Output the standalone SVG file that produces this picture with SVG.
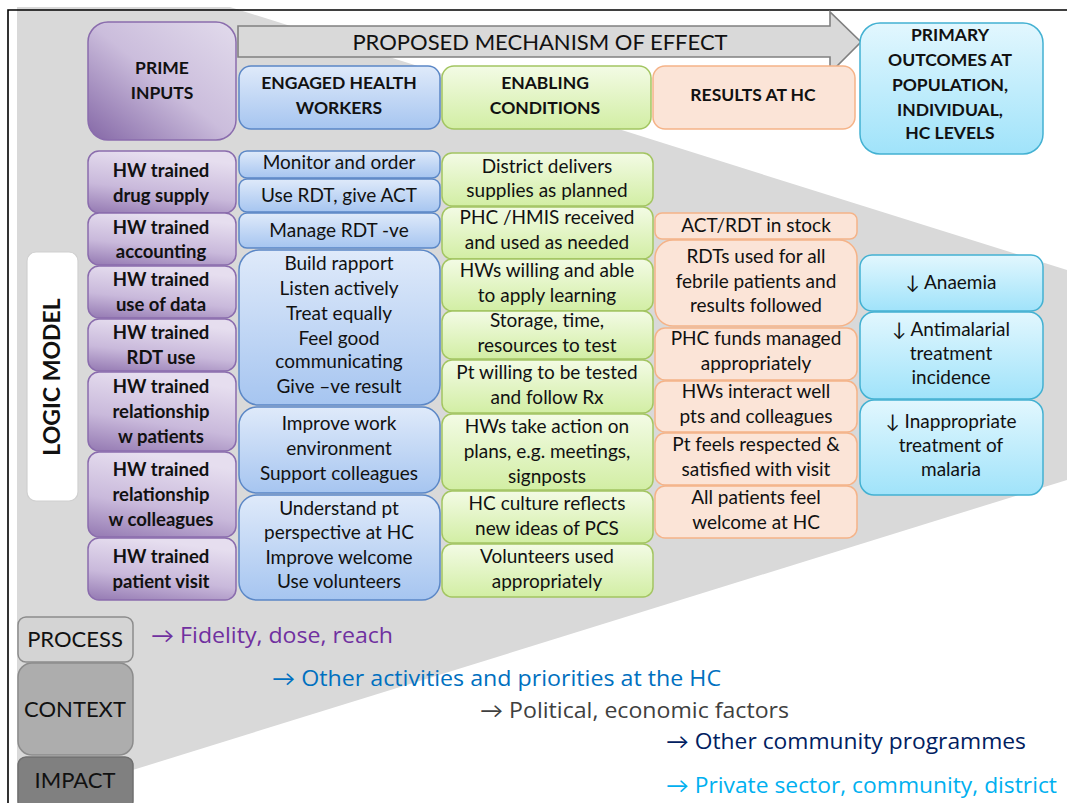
<svg xmlns="http://www.w3.org/2000/svg" width="1067" height="803" viewBox="0 0 1067 803">
<defs>
<linearGradient id="gPur" x1="0.3" y1="0" x2="0" y2="1"><stop offset="0" stop-color="#e6deef"/><stop offset="0.55" stop-color="#c9b9db"/><stop offset="1" stop-color="#9479b2"/></linearGradient>
<linearGradient id="gPurBig" x1="1" y1="0" x2="0" y2="1"><stop offset="0" stop-color="#e2dbec"/><stop offset="0.5" stop-color="#cbbddc"/><stop offset="1" stop-color="#8467a6"/></linearGradient>
<linearGradient id="gBlue" x1="0" y1="0" x2="0" y2="1"><stop offset="0" stop-color="#dfeafa"/><stop offset="1" stop-color="#a6c5f0"/></linearGradient>
<linearGradient id="gGreen" x1="0" y1="0" x2="0" y2="1"><stop offset="0" stop-color="#f3fbe5"/><stop offset="1" stop-color="#d2eea4"/></linearGradient>
<linearGradient id="gCyan" x1="0" y1="0" x2="0" y2="1"><stop offset="0" stop-color="#e2f7fe"/><stop offset="1" stop-color="#a0e3fa"/></linearGradient>
<style>
.pur{fill:url(#gPur);stroke:#8a6cad;stroke-width:1.5}
.blu{fill:url(#gBlue);stroke:#5b87c6;stroke-width:1.5}
.grn{fill:url(#gGreen);stroke:#a3c561;stroke-width:1.5}
.pch{fill:#fbe4d7;stroke:#f5b388;stroke-width:1.5}
.cyn{fill:url(#gCyan);stroke:#43b1d2;stroke-width:1.5}
text{font-family:Lato,"Liberation Sans",sans-serif;fill:#111;text-anchor:middle}
.h{font-weight:bold;font-size:17.5px}
.b{font-weight:bold;font-size:18.5px}
.t{font-size:19px}
.bt{font-family:"Open Sans",Lato,sans-serif;font-size:21px;text-anchor:start}
</style>
</defs>
<rect width="1067" height="803" fill="#ffffff"/>
<!-- grey funnel background -->
<polygon points="17,7 230,7 1067,270 1067,480 136,769 17,803" fill="#d9d9d9"/>
<!-- frame -->
<path d="M1067,10 H8 V803" fill="none" stroke="#000" stroke-width="1.6"/>

<g id="connectors">
<path id="mechanism-arrow" d="M238,26 H830 V12 L861,42 L830,73 V57 H238 Z" fill="#d9d9d9" stroke="#808080" stroke-width="1.6"/>
<text x="540" y="50" style="font-size:22px">PROPOSED MECHANISM OF EFFECT</text>
</g>

<g id="prime-inputs"><rect x="88" y="22" width="148" height="118" rx="20" fill="url(#gPurBig)" stroke="#8a6cad" stroke-width="1.5"/>
<text class="h" x="162" y="74">PRIME</text><text class="h" x="162" y="99">INPUTS</text></g>
<g id="engaged-hw"><rect class="blu" x="239" y="66" width="201" height="63" rx="12"/>
<text class="h" x="339" y="89">ENGAGED HEALTH</text><text class="h" x="339" y="114">WORKERS</text></g>
<g id="enabling"><rect class="grn" x="442" y="66" width="209" height="63" rx="12"/>
<text class="h" x="545" y="89">ENABLING</text><text class="h" x="545" y="114">CONDITIONS</text></g>
<g id="results"><rect class="pch" x="653" y="66" width="202" height="63" rx="12"/>
<text class="h" x="753" y="101">RESULTS AT HC</text></g>
<g id="primary-outcomes"><rect class="cyn" x="860" y="23" width="183" height="131" rx="20"/>
<text class="h" x="950" y="41">PRIMARY</text><text class="h" x="950" y="66">OUTCOMES AT</text><text class="h" x="950" y="91">POPULATION,</text><text class="h" x="950" y="116">INDIVIDUAL,</text><text class="h" x="950" y="139">HC LEVELS</text></g>

<!-- purple column -->
<g id="p1"><rect class="pur" x="88" y="151" width="148" height="62" rx="11"/><text class="b" x="161" y="177">HW trained</text><text class="b" x="161" y="202">drug supply</text></g>
<g id="p2"><rect class="pur" x="88" y="213" width="148" height="52" rx="11"/><text class="b" x="161" y="234">HW trained</text><text class="b" x="161" y="258">accounting</text></g>
<g id="p3"><rect class="pur" x="88" y="266" width="148" height="52" rx="11"/><text class="b" x="161" y="286">HW trained</text><text class="b" x="161" y="311">use of data</text></g>
<g id="p4"><rect class="pur" x="88" y="319" width="148" height="52" rx="11"/><text class="b" x="161" y="339">HW trained</text><text class="b" x="161" y="364">RDT use</text></g>
<g id="p5"><rect class="pur" x="88" y="372" width="148" height="79" rx="11"/><text class="b" x="161" y="393">HW trained</text><text class="b" x="161" y="418">relationship</text><text class="b" x="161" y="443">w patients</text></g>
<g id="p6"><rect class="pur" x="88" y="452" width="148" height="85" rx="11"/><text class="b" x="161" y="476">HW trained</text><text class="b" x="161" y="501">relationship</text><text class="b" x="161" y="526">w colleagues</text></g>
<g id="p7"><rect class="pur" x="88" y="538" width="148" height="62" rx="11"/><text class="b" x="161" y="563">HW trained</text><text class="b" x="161" y="588">patient visit</text></g>

<!-- blue column -->
<g id="b1"><rect class="blu" x="239" y="151" width="201" height="27" rx="8"/><text class="t" x="339" y="169">Monitor and order</text></g>
<g id="b2"><rect class="blu" x="239" y="179" width="201" height="33" rx="8"/><text class="t" x="339" y="202">Use RDT, give ACT</text></g>
<g id="b3"><rect class="blu" x="239" y="213" width="201" height="35" rx="8"/><text class="t" x="339" y="237">Manage RDT -ve</text></g>
<g id="b4"><rect class="blu" x="239" y="250" width="201" height="155" rx="20"/><text class="t" x="339" y="270">Build rapport</text><text class="t" x="339" y="295">Listen actively</text><text class="t" x="339" y="320">Treat equally</text><text class="t" x="339" y="345">Feel good</text><text class="t" x="339" y="368">communicating</text><text class="t" x="339" y="393">Give –ve result</text></g>
<g id="b5"><rect class="blu" x="239" y="407" width="201" height="86" rx="18"/><text class="t" x="339" y="430">Improve work</text><text class="t" x="339" y="455">environment</text><text class="t" x="339" y="480">Support colleagues</text></g>
<g id="b6"><rect class="blu" x="239" y="495" width="201" height="105" rx="18"/><text class="t" x="339" y="515">Understand pt</text><text class="t" x="339" y="539">perspective at HC</text><text class="t" x="339" y="564">Improve welcome</text><text class="t" x="339" y="588">Use volunteers</text></g>

<!-- green column -->
<g id="g1"><rect class="grn" x="442" y="153" width="211" height="53" rx="10"/><text class="t" x="547" y="173">District delivers</text><text class="t" x="547" y="197">supplies as planned</text></g>
<g id="g2"><rect class="grn" x="442" y="207" width="211" height="52" rx="10"/><text class="t" x="547" y="224">PHC /HMIS received</text><text class="t" x="547" y="249">and used as needed</text></g>
<g id="g3"><rect class="grn" x="442" y="259" width="211" height="52" rx="10"/><text class="t" x="547" y="277">HWs willing and able</text><text class="t" x="547" y="302">to apply learning</text></g>
<g id="g4"><rect class="grn" x="442" y="311" width="211" height="48" rx="10"/><text class="t" x="547" y="327">Storage, time,</text><text class="t" x="547" y="352">resources to test</text></g>
<g id="g5"><rect class="grn" x="442" y="360" width="211" height="53" rx="10"/><text class="t" x="547" y="379">Pt willing to be tested</text><text class="t" x="547" y="404">and follow Rx</text></g>
<g id="g6"><rect class="grn" x="442" y="414" width="211" height="76" rx="10"/><text class="t" x="547" y="433">HWs take action on</text><text class="t" x="547" y="458">plans, e.g. meetings,</text><text class="t" x="547" y="483">signposts</text></g>
<g id="g7"><rect class="grn" x="442" y="491" width="211" height="52" rx="10"/><text class="t" x="547" y="510">HC culture reflects</text><text class="t" x="547" y="535">new ideas of PCS</text></g>
<g id="g8"><rect class="grn" x="442" y="544" width="211" height="53" rx="10"/><text class="t" x="547" y="563">Volunteers used</text><text class="t" x="547" y="588">appropriately</text></g>

<!-- peach column -->
<g id="r1"><rect class="pch" x="655" y="213" width="202" height="26" rx="7"/><text class="t" x="756" y="232">ACT/RDT in stock</text></g>
<g id="r2"><rect class="pch" x="655" y="240" width="202" height="86" rx="18"/><text class="t" x="756" y="263">RDTs used for all</text><text class="t" x="756" y="288">febrile patients and</text><text class="t" x="756" y="312">results followed</text></g>
<g id="r3"><rect class="pch" x="655" y="328" width="202" height="52" rx="10"/><text class="t" x="756" y="345">PHC funds managed</text><text class="t" x="756" y="370">appropriately</text></g>
<g id="r4"><rect class="pch" x="655" y="381" width="202" height="51" rx="10"/><text class="t" x="756" y="398">HWs interact well</text><text class="t" x="756" y="423">pts and colleagues</text></g>
<g id="r5"><rect class="pch" x="655" y="433" width="202" height="52" rx="10"/><text class="t" x="756" y="451">Pt feels respected &amp;</text><text class="t" x="756" y="476">satisfied with visit</text></g>
<g id="r6"><rect class="pch" x="655" y="486" width="202" height="52" rx="10"/><text class="t" x="756" y="504">All patients feel</text><text class="t" x="756" y="529">welcome at HC</text></g>

<!-- cyan column -->
<g id="c1"><rect class="cyn" x="860" y="255" width="183" height="56" rx="12"/><text class="t" x="951" y="289">↓ Anaemia</text></g>
<g id="c2"><rect class="cyn" x="860" y="312" width="183" height="87" rx="14"/><text class="t" x="951" y="336">↓ Antimalarial</text><text class="t" x="951" y="360">treatment</text><text class="t" x="951" y="384">incidence</text></g>
<g id="c3"><rect class="cyn" x="860" y="400" width="183" height="95" rx="14"/><text class="t" x="951" y="428">↓ Inappropriate</text><text class="t" x="951" y="452">treatment of</text><text class="t" x="951" y="476">malaria</text></g>

<!-- logic model label -->
<g id="logic-model"><rect x="27" y="252" width="51" height="249" rx="9" fill="#ffffff" stroke="#d0d0d0" stroke-width="1.2"/>
<text x="52" y="385" transform="rotate(-90 52 377)" style="font-weight:bold;font-size:23px">LOGIC MODEL</text></g>

<!-- evaluation boxes -->
<g id="process"><rect x="18" y="617" width="115" height="45" rx="8" fill="#d4d4d4" stroke="#8c8c8c" stroke-width="1.5"/><text x="75" y="647" style="font-size:22px">PROCESS</text></g>
<g id="context"><rect x="18" y="663" width="115" height="92" rx="14" fill="#adadad" stroke="#8c8c8c" stroke-width="1.5"/><text x="75" y="717" style="font-size:22px">CONTEXT</text></g>
<g id="impact"><rect x="18" y="757" width="115" height="52" rx="8" fill="#808080" stroke="#6f6f6f" stroke-width="1.5"/><text x="75" y="788" style="font-size:22px">IMPACT</text></g>

<g id="factors">
<text class="bt" x="151" y="643" textLength="242" lengthAdjust="spacingAndGlyphs" style="fill:#7030a0">→ Fidelity, dose, reach</text>
<text class="bt" x="272" y="686" textLength="449" lengthAdjust="spacingAndGlyphs" style="fill:#0070c0">→ Other activities and priorities at the HC</text>
<text class="bt" x="480" y="718" textLength="309" lengthAdjust="spacingAndGlyphs" style="fill:#404040">→ Political, economic factors</text>
<text class="bt" x="666" y="749" textLength="360" lengthAdjust="spacingAndGlyphs" style="fill:#002060">→ Other community programmes</text>
<text class="bt" x="666" y="793" textLength="391" lengthAdjust="spacingAndGlyphs" style="fill:#00b0f0">→ Private sector, community, district</text>
</g>
</svg>
